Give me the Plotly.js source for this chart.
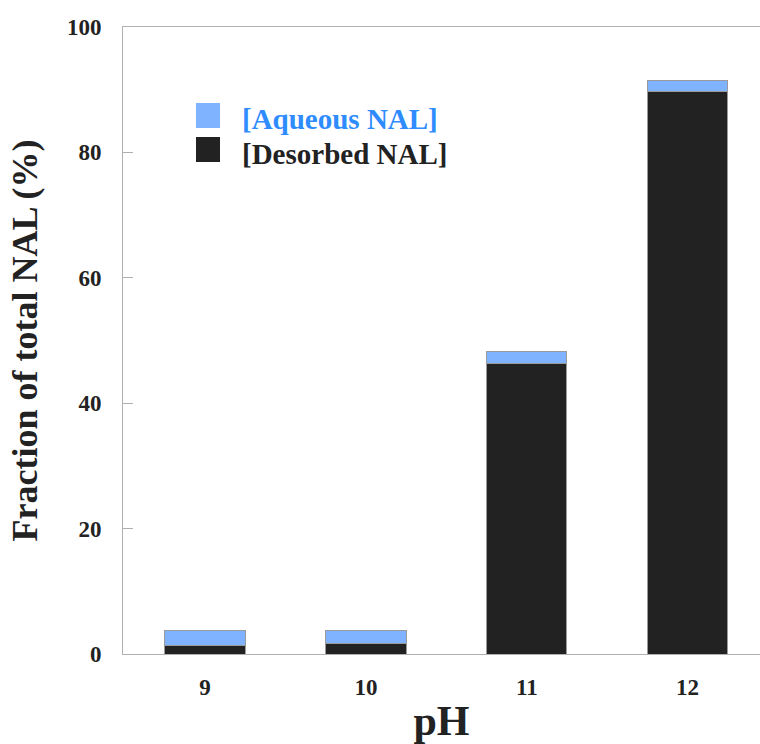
<!DOCTYPE html>
<html>
<head>
<meta charset="utf-8">
<script src="https://cdn.plot.ly/plotly-3.0.1.min.js"></script>
<style>html,body{margin:0;padding:0;background:#fff;}#chart{width:760px;height:744px;}</style>
</head>
<body>
<div id="chart"></div>
<script>
const categories = ['9', '10', '11', '12'];
const desorbedNAL = [1.4, 1.7, 46.3, 89.7];
const aqueousNAL = [2.3, 2.1, 2.0, 1.8];
const yTicks = [0, 20, 40, 60, 80, 100];

const serif = '"Liberation Serif", "DejaVu Serif", serif';
const blueFill = '#80b3ff';
const blackFill = '#222222';
const blueText = '#2f8cff';

const traces = [
  {
    type: 'bar', name: '[Desorbed NAL]', x: categories, y: desorbedNAL,
    marker: {color: blackFill, line: {color: '#9a9a9a', width: 1}},
    width: 0.5, showlegend: false
  },
  {
    type: 'bar', name: '[Aqueous NAL]', x: categories, y: aqueousNAL,
    marker: {color: blueFill, line: {color: '#9a9a9a', width: 1}},
    width: 0.5, showlegend: false
  }
];

const layout = {
  width: 760, height: 744,
  margin: {l: 123, r: 0, t: 27, b: 90},
  barmode: 'stack',
  paper_bgcolor: '#fff', plot_bgcolor: '#fff',
  showlegend: false,
  xaxis: {
    type: 'category', range: [-0.51, 3.45],
    showgrid: false, zeroline: false,
    showline: true, linecolor: '#b0b0b0', linewidth: 1, mirror: true,
    ticks: '', ticklabelstandoff: 12,
    tickfont: {family: serif, size: 23, color: '#222', weight: 'bold'},
    title: {text: 'pH', font: {family: serif, size: 42, color: '#222', weight: 'bold'}, standoff: 8}
  },
  yaxis: {
    range: [0, 100], tickvals: yTicks, ticktext: yTicks.map(String),
    showgrid: false, zeroline: false,
    showline: true, linecolor: '#b0b0b0', linewidth: 1, mirror: false,
    ticks: 'inside', ticklen: 10, tickcolor: '#b0b0b0',
    ticklabelstandoff: 16,
    tickfont: {family: serif, size: 23, color: '#222', weight: 'bold'},
    title: {text: 'Fraction of total NAL (%)', font: {family: serif, size: 36, color: '#222', weight: 'bold'}, standoff: 18}
  },
  shapes: [
    {type: 'rect', xref: 'paper', yref: 'paper', x0: (196-123)/637, x1: (220-123)/637, y0: (654-128)/627, y1: (654-103)/627, fillcolor: blueFill, line: {width: 0}},
    {type: 'rect', xref: 'paper', yref: 'paper', x0: (196-123)/637, x1: (220-123)/637, y0: (654-162)/627, y1: (654-137)/627, fillcolor: blackFill, line: {width: 0}}
  ],
  annotations: [
    {xref: 'paper', yref: 'paper', x: (240-123)/637, y: (654-119)/627, xanchor: 'left', yanchor: 'middle', showarrow: false,
     text: '[Aqueous NAL]', font: {family: serif, size: 29, color: blueText, weight: 'bold'}},
    {xref: 'paper', yref: 'paper', x: (240-123)/637, y: (654-154)/627, xanchor: 'left', yanchor: 'middle', showarrow: false,
     text: '[Desorbed NAL]', font: {family: serif, size: 29, color: '#222', weight: 'bold'}}
  ]
};

Plotly.newPlot('chart', traces, layout, {displayModeBar: false, staticPlot: true});
</script>
</body>
</html>
